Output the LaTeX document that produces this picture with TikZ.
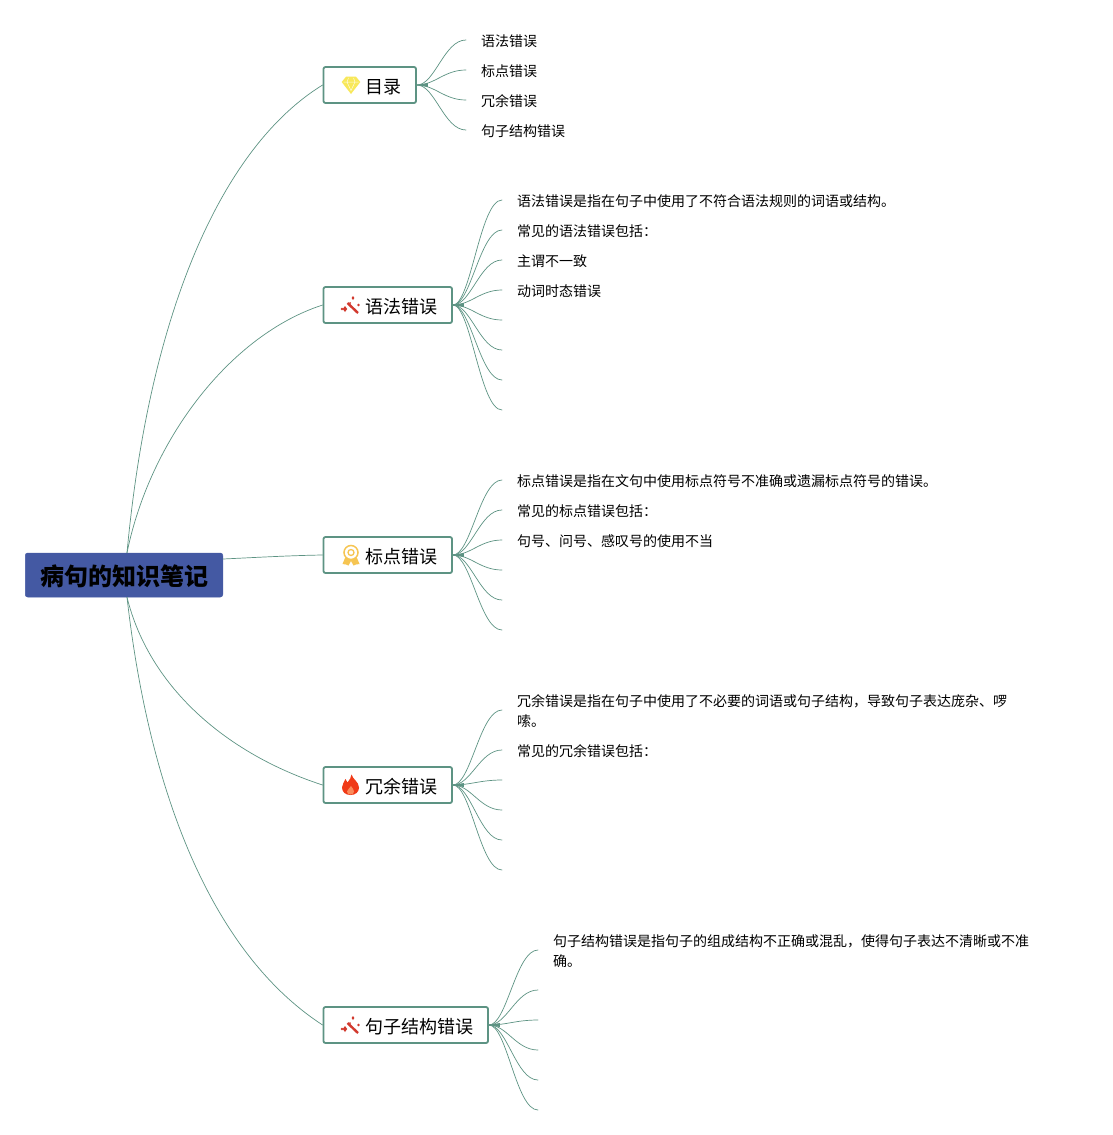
\documentclass[tikz,border=0pt]{standalone}
\usepackage{fontspec}
\setmainfont{Noto Sans CJK SC}
\definecolor{branch}{HTML}{5D9383}
\definecolor{rootblue}{HTML}{4459A3}
\definecolor{wandred}{HTML}{D2392E}
\definecolor{medalgold}{HTML}{F6C552}
\definecolor{gemyellow}{HTML}{F8E85A}
\definecolor{flamered}{HTML}{F03A17}
\definecolor{flameinner}{HTML}{FA8A5A}
\tikzset{
  rootbox/.style={draw=rootblue,fill=rootblue,rounded corners=2.5pt,line width=0.5pt,minimum width=197.5pt,minimum height=44pt,inner sep=0pt,text=black},
  roottext/.style={inner sep=0pt,font=\fontsize{24}{28}\selectfont\bfseries,text=black},
  topicbox/.style={draw=branch,fill=white,rounded corners=2pt,line width=1.8pt,minimum height=36pt,inner sep=0pt,anchor=west,font=\fontsize{18}{22}\selectfont},
  topiclabel/.style={inner sep=0pt,anchor=west,font=\fontsize{18}{22}\selectfont},
  leaftext/.style={inner sep=0pt,anchor=west,align=left,font=\fontsize{14}{20}\selectfont},
  link/.style={draw=branch,line width=0.7pt,line cap=round},
}
\newcommand{\leafcurve}[2]{%
  \draw[link] (#1) .. controls ([xshift=18pt]#1) and ([xshift=-22pt]#2) .. (#2);
}
\newcommand{\tipmark}[1]{%
  \fill[branch] (#1) -- ([shift={(11pt,-2pt)}]#1) -- ([shift={(11pt,2pt)}]#1) -- cycle;
}
\newcommand{\wandicon}{%
  \draw[wandred,line width=2.4pt] (-3.5,-3) -- (7,7);
  \fill[wandred] (-6,0) -- (-3.8,3) -- (-6,6) -- (-8.2,3) -- cycle;
  \fill[wandred] (-9,3) circle (1.3);
  \fill[wandred] (2,-10) -- (3.4,-8) -- (2,-6) -- (0.6,-8) -- cycle;
  \fill[wandred] (7.5,-1) circle (1.3);
  \fill[wandred] (-1,-3) circle (1);
}
\begin{document}
\begin{tikzpicture}[x=1pt,y=-1pt]
\useasboundingbox (0,0) rectangle (1113,1135);

\node[rootbox] (root) at (124,575) {};
\node[roottext] (roottitle) at (124,576.5) {病句的知识笔记};

\node[topicbox,minimum width=92.5pt]  (t1) at (322.6,85)   {};
\node[topicbox,minimum width=128.5pt] (t2) at (322.6,305)  {};
\node[topicbox,minimum width=128.5pt] (t3) at (322.6,555)  {};
\node[topicbox,minimum width=128.5pt] (t4) at (322.6,785)  {};
\node[topicbox,minimum width=164.5pt] (t5) at (322.6,1025) {};

\node[topiclabel] (l1) at (365,87)   {目录};
\node[topiclabel] (l2) at (365,307)  {语法错误};
\node[topiclabel] (l3) at (365,557)  {标点错误};
\node[topiclabel] (l4) at (365,787)  {冗余错误};
\node[topiclabel] (l5) at (365,1027) {句子结构错误};

% main branches
\draw[link] ([xshift=3pt]root.north) .. controls (150,305) and (225,145) .. (t1.west);
\draw[link] ([xshift=3pt]root.north) .. controls (150,440) and (230,335) .. (t2.west);
\draw[link] ([yshift=16pt]root.east) .. controls (255,557.5) and (290,555.5) .. (t3.west);
\draw[link] ([xshift=3pt]root.south) .. controls (150,690) and (230,755) .. (t4.west);
\draw[link] ([xshift=3pt]root.south) .. controls (150,800) and (215,955) .. (t5.west);

% leaves of topic 1
\node[leaftext] (a1) at (481,41.6)  {语法错误};
\node[leaftext] (a2) at (481,71.6)  {标点错误};
\node[leaftext] (a3) at (481,101.6) {冗余错误};
\node[leaftext] (a4) at (481,131.6) {句子结构错误};
\coordinate (ae1) at (466,40);
\coordinate (ae2) at (466,70);
\coordinate (ae3) at (466,100);
\coordinate (ae4) at (466,130);
\foreach \e in {ae1,ae2,ae3,ae4} {\leafcurve{t1.east}{\e}}
\tipmark{t1.east}

% leaves of topic 2
\node[leaftext] (b1) at (517,201.6) {语法错误是指在句子中使用了不符合语法规则的词语或结构。};
\node[leaftext] (b2) at (517,231.6) {常见的语法错误包括：};
\node[leaftext] (b3) at (517,261.6) {主谓不一致};
\node[leaftext] (b4) at (517,291.6) {动词时态错误};
\foreach \n/\y in {1/200,2/230,3/260,4/290,5/320,6/350,7/380,8/410} {
  \coordinate (be\n) at (502,\y);
  \leafcurve{t2.east}{be\n}
}
\tipmark{t2.east}

% leaves of topic 3
\node[leaftext] (c1) at (517,481.6) {标点错误是指在文句中使用标点符号不准确或遗漏标点符号的错误。};
\node[leaftext] (c2) at (517,511.6) {常见的标点错误包括：};
\node[leaftext] (c3) at (517,541.6) {句号、问号、感叹号的使用不当};
\foreach \n/\y in {1/480,2/510,3/540,4/570,5/600,6/630} {
  \coordinate (ce\n) at (502,\y);
  \leafcurve{t3.east}{ce\n}
}
\tipmark{t3.east}

% leaves of topic 4
\node[leaftext] (d1) at (517,711) {冗余错误是指在句子中使用了不必要的词语或句子结构，导致句子表达庞杂、啰\\嗦。};
\node[leaftext] (d2) at (517,751.6) {常见的冗余错误包括：};
\foreach \n/\y in {1/710,2/750,3/780,4/810,5/840,6/870} {
  \coordinate (de\n) at (502,\y);
  \leafcurve{t4.east}{de\n}
}
\tipmark{t4.east}

% leaves of topic 5
\node[leaftext] (e1) at (553,951.6) {句子结构错误是指句子的组成结构不正确或混乱，使得句子表达不清晰或不准\\确。};
\foreach \n/\y in {1/950,2/990,3/1020,4/1050,5/1080,6/1110} {
  \coordinate (ee\n) at (538,\y);
  \leafcurve{t5.east}{ee\n}
}
\tipmark{t5.east}

% icons
\begin{scope}[shift={(351,85)}]
  \fill[gemyellow] (-5,-8.3) -- (5,-8.3) -- (9.3,-3) -- (0,9) -- (-9.3,-3) -- cycle;
  \draw[white,line width=0.5pt,opacity=0.8] (-7.5,-3) -- (7.5,-3) (-2.5,-7) -- (-4,-3) -- (0,5.5) -- (4,-3) -- (2.5,-7);
\end{scope}
\begin{scope}[shift={(351,306)}]\wandicon\end{scope}
\begin{scope}[shift={(351,1026)}]\wandicon\end{scope}
\begin{scope}[shift={(351,555)}]
  \fill[medalgold] (-6,3) -- (-8.5,9) -- (-5,9.5) -- (-2.5,10.5) -- (0,6) -- (2.5,10.5) -- (5,9.5) -- (8.5,9) -- (6,3) -- cycle;
  \draw[medalgold,fill=white,line width=1.5pt] (0,-2.5) circle (7);
  \draw[medalgold,line width=1.3pt] (0,-2.5) circle (3);
\end{scope}
\begin{scope}[shift={(350.5,785)}]
  \fill[flamered] (1,-10.5) .. controls (2,-6) and (8.5,-3) .. (8.5,2.5)
     .. controls (8.5,7) and (5,10) .. (0,10)
     .. controls (-5,10) and (-8.5,7) .. (-8.5,2.5)
     .. controls (-8.5,-1) and (-6,-3) .. (-5,-6)
     .. controls (-4,-4.5) and (-3.5,-3.5) .. (-3,-2.5)
     .. controls (-1,-5) and (1,-8) .. (1,-10.5) -- cycle;
  \fill[flameinner] (0.5,1) .. controls (2,3.5) and (3.5,4.5) .. (3.5,6.5)
     .. controls (3.5,8.5) and (2,9.5) .. (0,9.5)
     .. controls (-2,9.5) and (-3.5,8.5) .. (-3.5,6.5)
     .. controls (-3.5,4.5) and (-0.5,3.5) .. (0.5,1) -- cycle;
\end{scope}
\end{tikzpicture}
\end{document}
